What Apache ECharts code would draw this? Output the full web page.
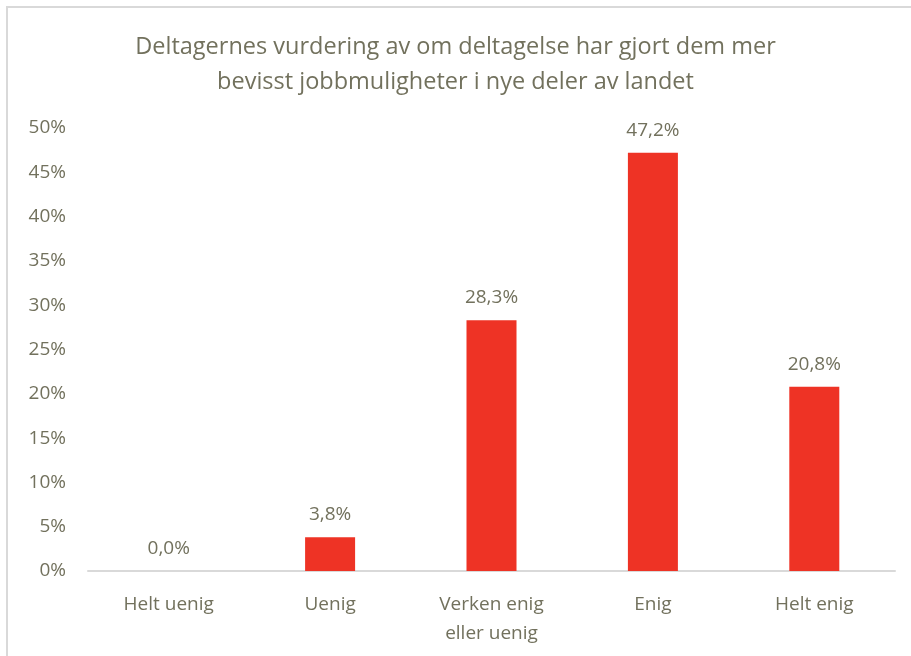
<!DOCTYPE html>
<html>
<head>
<meta charset="utf-8">
<script src="https://cdn.jsdelivr.net/npm/echarts@6/dist/echarts.min.js"></script>
<style>
  html, body { margin: 0; padding: 0; background: #fff; }
  #chart { width: 911px; height: 656px; }
</style>
</head>
<body>
<div id="chart"></div>
<script>
// chart data
const categories = ['Helt uenig', 'Uenig', 'Verken enig\neller uenig', 'Enig', 'Helt enig'];
const shares = [0.0, 3.8, 28.3, 47.2, 20.8];
const titleText = 'Deltagernes vurdering av om deltagelse har gjort dem mer\nbevisst jobbmuligheter i nye deler av landet';

const textColor = '#72715d';
const fontFamily = '"Open Sans", "Noto Sans", sans-serif';

const chart = echarts.init(document.getElementById('chart'));

const option = {
    backgroundColor: '#fff',
    animation: false,
    title: {
        text: titleText,
        left: 'center',
        top: 25,
        textStyle: {
            color: textColor,
            fontFamily: fontFamily,
            fontSize: 23.5,
            fontWeight: 'normal',
            lineHeight: 35
        }
    },
    graphic: [
        {
            type: 'polyline',
            shape: { points: [[7, 660], [7, 7], [915, 7]] },
            style: { stroke: '#d9d9d9', lineWidth: 2, fill: null },
            silent: true
        }
    ],
    grid: {
        left: 88,
        right: 16,
        top: 128,
        bottom: 85
    },
    xAxis: {
        type: 'category',
        data: categories,
        axisLine: { lineStyle: { color: '#d9d9d9', width: 2 } },
        axisTick: { show: false },
        axisLabel: {
            color: textColor,
            fontFamily: fontFamily,
            fontSize: 19,
            lineHeight: 29,
            margin: 19,
            interval: 0
        }
    },
    yAxis: {
        type: 'value',
        min: 0,
        max: 50,
        interval: 5,
        axisLine: { show: false },
        axisTick: { show: false },
        splitLine: { show: false },
        axisLabel: {
            color: textColor,
            fontFamily: fontFamily,
            fontSize: 19,
            margin: 22,
            formatter: v => v + '%'
        }
    },
    series: [
        {
            type: 'bar',
            data: shares,
            barWidth: 50,
            itemStyle: { color: '#ee3325' },
            label: {
                show: true,
                position: 'top',
                distance: 13,
                color: textColor,
                fontFamily: fontFamily,
                fontSize: 19,
                formatter: p => p.value.toFixed(1).replace('.', ',') + '%'
            }
        }
    ]
};

chart.setOption(option);

window.addEventListener('resize', function () {
    chart.resize();
});
</script>
</body>
</html>
